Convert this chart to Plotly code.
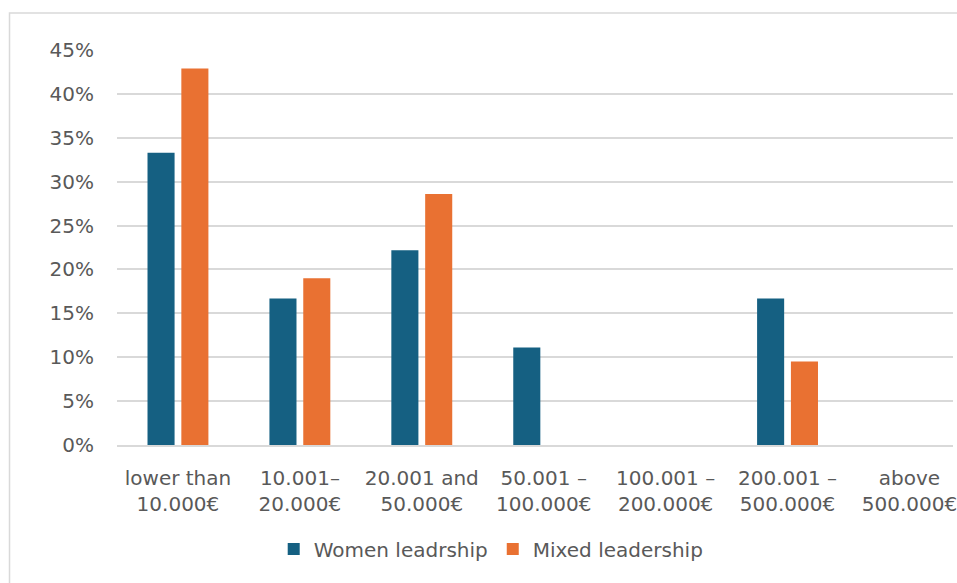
import plotly.graph_objects as go

# Annual revenue bands and share of companies per leadership type
categories = [
    "lower than<br>10.000€",
    "10.001–<br>20.000€",
    "20.001 and<br>50.000€",
    "50.001 –<br>100.000€",
    "100.001 –<br>200.000€",
    "200.001 –<br>500.000€",
    "above<br>500.000€",
]
women_leadership = [0.333, 0.167, 0.222, 0.111, 0.0, 0.167, 0.0]
mixed_leadership = [0.429, 0.190, 0.286, 0.0, 0.0, 0.095, 0.0]
y_ticks = [0, 0.05, 0.10, 0.15, 0.20, 0.25, 0.30, 0.35, 0.40, 0.45]

FONT = "DejaVu Sans"
TEXT = "#595959"
GRID = "#d9d9d9"

fig = go.Figure()
fig.add_trace(go.Bar(
    name="Women leadrship", x=list(range(len(categories))), y=women_leadership,
    marker=dict(color="#156082", line=dict(width=0)),
))
fig.add_trace(go.Bar(
    name="Mixed leadership", x=list(range(len(categories))), y=mixed_leadership,
    marker=dict(color="#E97132", line=dict(width=0)),
))

W, H = 957, 583
L, T, B = 117, 50, 138
plot_h = H - T - B
plot_w = W - L


def px_x(p):
    return (p - L) / plot_w


def px_y(p):
    return (H - B - p) / plot_h


fig.update_layout(
    width=W, height=H,
    margin=dict(l=L, r=0, t=T, b=B, pad=0),
    paper_bgcolor="white", plot_bgcolor="white",
    barmode="group", bargap=0.445, bargroupgap=0.2,
    font=dict(family=FONT, size=20, color=TEXT),
    showlegend=True,
    legend=dict(
        orientation="h", x=px_x(493), xanchor="center",
        y=px_y(549), yanchor="middle",
        font=dict(family=FONT, size=20, color=TEXT),
        itemwidth=30, traceorder="normal",
    ),
    xaxis=dict(
        tickmode="array", tickvals=list(range(len(categories))), ticktext=categories,
        range=[-0.5, -0.5 + plot_w / 122.5],
        showgrid=False, zeroline=False,
        showline=True, linecolor=GRID, linewidth=1.5,
        ticks="", ticklabelstandoff=14, ticklabeloverflow="allow",
        tickfont=dict(family=FONT, size=20, color=TEXT),
        fixedrange=True,
    ),
    yaxis=dict(
        range=[0, 0.45], tickmode="array", tickvals=y_ticks,
        tickformat=".0%", showgrid=True, gridcolor=GRID, gridwidth=1.5,
        zeroline=False, showline=False, ticks="", ticklabelstandoff=22,
        tickfont=dict(family=FONT, size=20, color=TEXT),
        fixedrange=True,
    ),
    shapes=[dict(
        type="rect", xref="paper", yref="paper",
        x0=px_x(9), x1=px_x(1200), y0=px_y(700), y1=px_y(13),
        line=dict(color=GRID, width=1.5), fillcolor="rgba(0,0,0,0)", layer="below",
    )],
)

fig.write_html("out.html", config={"displayModeBar": False})
